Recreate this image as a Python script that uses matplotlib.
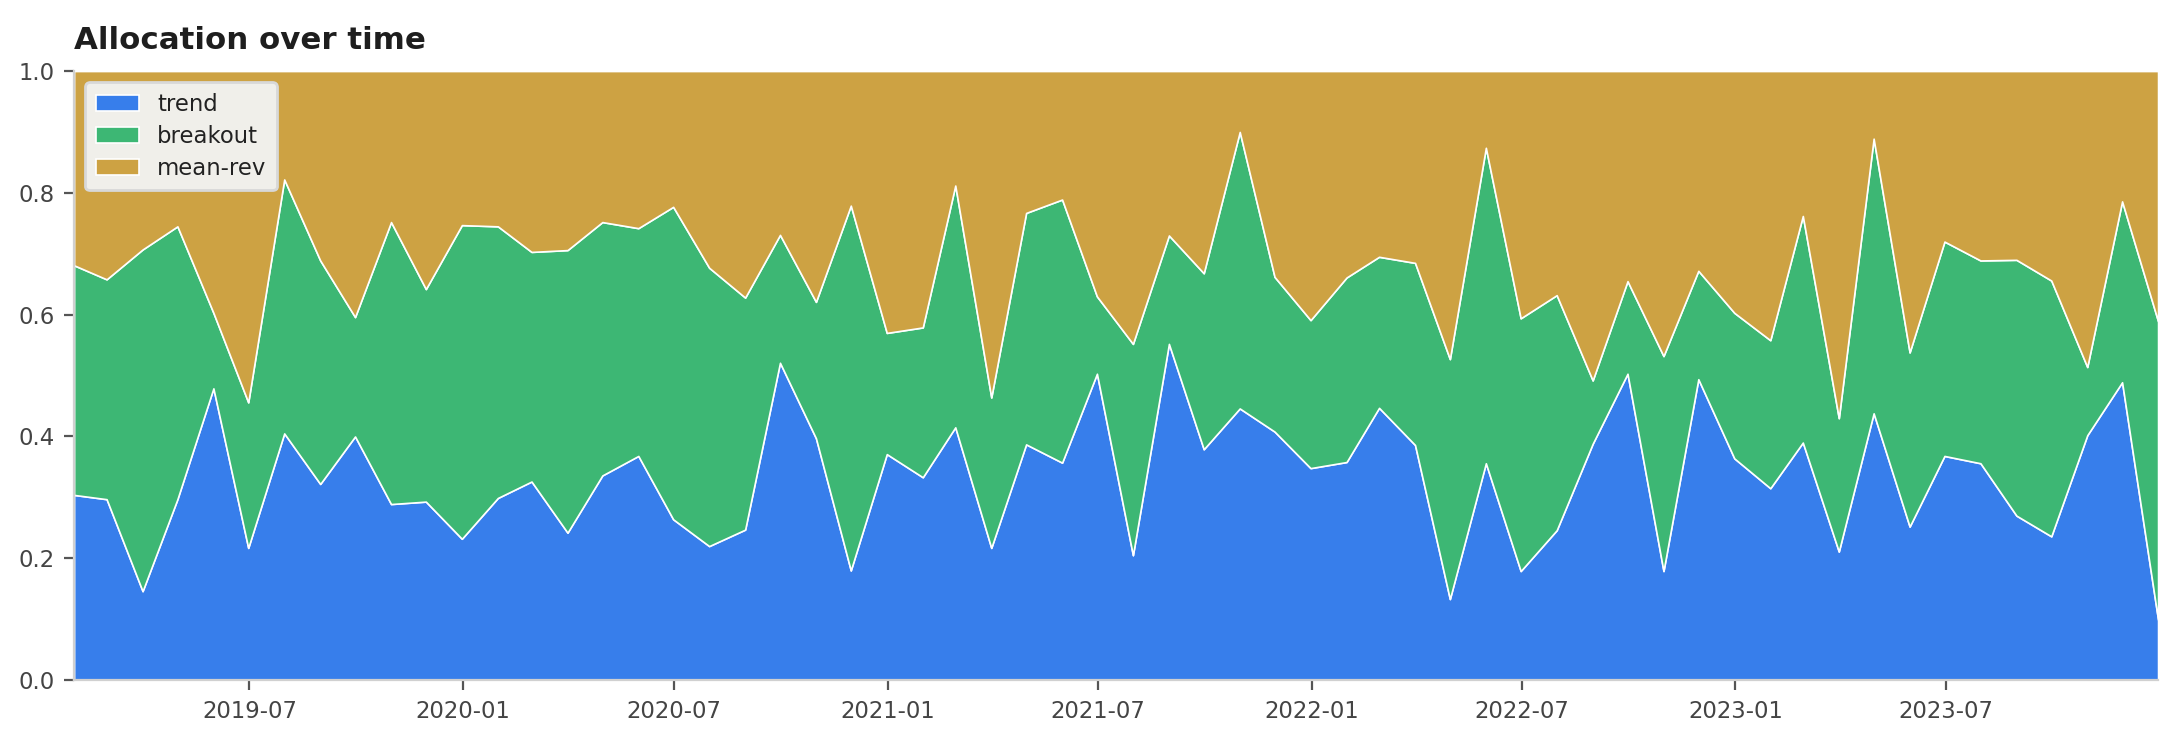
import numpy as np
import pandas as pd
import matplotlib
matplotlib.use("Agg")
from matplotlib import pyplot as plt
import matplotlib.dates as mdates

### data (monthly)
dates = pd.date_range("2019-01-31", periods=60, freq="ME")

trend = [0.304, 0.297, 0.146, 0.297, 0.479, 0.217, 0.405, 0.322, 0.400, 0.289,
         0.293, 0.232, 0.299, 0.326, 0.242, 0.336, 0.368, 0.264, 0.220, 0.247,
         0.521, 0.397, 0.180, 0.371, 0.333, 0.415, 0.217, 0.387, 0.357, 0.503,
         0.205, 0.552, 0.379, 0.446, 0.408, 0.348, 0.358, 0.447, 0.386, 0.133,
         0.356, 0.179, 0.246, 0.388, 0.503, 0.179, 0.494, 0.364, 0.315, 0.390,
         0.211, 0.438, 0.252, 0.368, 0.356, 0.270, 0.236, 0.402, 0.489, 0.099]

breakout = [0.377, 0.361, 0.561, 0.448, 0.124, 0.239, 0.417, 0.367, 0.196, 0.463,
            0.349, 0.515, 0.446, 0.377, 0.464, 0.416, 0.374, 0.513, 0.457, 0.381,
            0.210, 0.224, 0.599, 0.199, 0.246, 0.397, 0.247, 0.380, 0.432, 0.127,
            0.347, 0.178, 0.289, 0.454, 0.254, 0.243, 0.303, 0.248, 0.299, 0.394,
            0.518, 0.415, 0.386, 0.104, 0.152, 0.353, 0.178, 0.239, 0.243, 0.372,
            0.219, 0.451, 0.286, 0.352, 0.333, 0.420, 0.420, 0.112, 0.297, 0.490]

mean_rev = [0.319, 0.342, 0.293, 0.255, 0.397, 0.544, 0.178, 0.311, 0.404, 0.248,
            0.358, 0.253, 0.255, 0.297, 0.294, 0.248, 0.258, 0.223, 0.323, 0.372,
            0.269, 0.379, 0.221, 0.430, 0.421, 0.188, 0.536, 0.233, 0.211, 0.370,
            0.448, 0.270, 0.332, 0.100, 0.338, 0.409, 0.339, 0.305, 0.315, 0.473,
            0.126, 0.406, 0.368, 0.508, 0.345, 0.468, 0.328, 0.397, 0.442, 0.238,
            0.570, 0.111, 0.462, 0.280, 0.311, 0.310, 0.344, 0.486, 0.214, 0.411]

labels = ["trend", "breakout", "mean-rev"]
colors = ["#377eeb", "#3db774", "#cda243"]

### plot
fig = plt.figure(figsize=(10.895, 3.7), dpi=200)
ax = fig.add_axes([0.034, 0.081, 0.9564, 0.823])

ax.stackplot(dates, trend, breakout, mean_rev, labels=labels, colors=colors,
             edgecolor="white", linewidth=0.6)

ax.set_xlim(dates[0], dates[-1])
ax.set_ylim(0, 1)
ax.set_yticks(np.arange(0, 1.01, 0.2))
ax.yaxis.set_major_formatter(matplotlib.ticker.FormatStrFormatter("%.1f"))
ax.xaxis.set_major_locator(mdates.MonthLocator(bymonth=[1, 7]))
ax.xaxis.set_major_formatter(mdates.DateFormatter("%Y-%m"))

for s in ["top", "right"]:
    ax.spines[s].set_visible(False)
for s in ["left", "bottom"]:
    ax.spines[s].set_color("#d0d0d0")
    ax.spines[s].set_linewidth(0.8)
ax.tick_params(colors="#555555", labelcolor="#444444", labelsize=8.2,
               length=3.5, width=0.8)

ax.set_title("Allocation over time", loc="left", fontsize=11.1,
             fontweight="bold", color="#1e1e1e", pad=8)

leg = ax.legend(loc="upper left", fontsize=8.2, frameon=True, fancybox=True,
                facecolor="#f0efea", edgecolor="#d8d8d8", framealpha=1,
                borderpad=0.45, labelspacing=0.4, handlelength=1.9)
for t in leg.get_texts():
    t.set_color("#222222")

fig.savefig("out.png", dpi=200)
